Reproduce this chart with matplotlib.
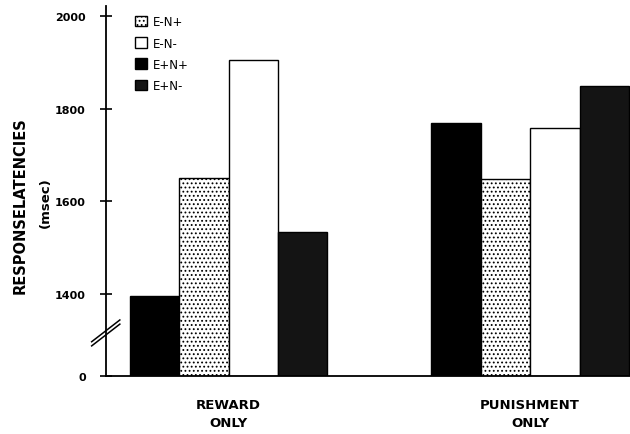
import numpy as np
import matplotlib.pyplot as plt

plt.rcParams['font.family'] = ['DejaVu Sans']
plt.rcParams['hatch.linewidth'] = 0.8

# données (msec)
conditions = ["REWARD\nONLY", "PUNISHMENT\nONLY"]
series = ["E+N+", "E-N+", "E-N-", "E+N-"]
e_pos_n_pos = [1395, 1770]
e_neg_n_pos = [1650, 1648]
e_neg_n_neg = [1905, 1758]
e_pos_n_neg = [1535, 1850]
values = [e_pos_n_pos, e_neg_n_pos, e_neg_n_neg, e_pos_n_neg]
yticks = [1400, 1600, 1800, 2000]

# axe coupé : le "0" est placé sous 1400
base = 1223
styles = {
    "E+N+": dict(color='black', hatch=None),
    "E-N+": dict(color='white', hatch='....'),
    "E-N-": dict(color='white', hatch=None),
    "E+N-": dict(color='#141414', hatch=None),
}

fig = plt.figure(figsize=(6.3, 4.35), dpi=100)
ax = fig.add_axes([106 / 630, 1 - 377 / 435, 1 - 106 / 630, 370 / 435])

group_x = np.array([0.0, 6.1])
offsets = [-1.5, -0.5, 0.5, 1.5]
bars = {}
for name, vals, off in zip(series, values, offsets):
    st = styles[name]
    heights = np.array(vals) - base
    bars[name] = ax.bar(group_x + off, heights, width=1.0, bottom=base,
                        color=st['color'], hatch=st['hatch'],
                        edgecolor='black', linewidth=1.0, label=name)

ax.set_xlim(-2.48, 8.12)
ax.set_ylim(base, 2022)

ax.set_yticks([base] + yticks)
ax.set_yticklabels(["0"] + [str(t) for t in yticks], fontsize=8, fontweight='bold')
ax.tick_params(axis='y', direction='inout', length=9, width=1.2, pad=10)
ax.set_xticks(group_x)
ax.set_xticklabels(conditions, fontsize=9.5, fontweight='bold', linespacing=1.5)
ax.tick_params(axis='x', length=0, pad=16)

for s in ['top', 'right']:
    ax.spines[s].set_visible(False)
ax.spines['left'].set_linewidth(1.3)
ax.spines['bottom'].set_linewidth(1.3)

# marques de coupure sur l'axe
for dy in (0, 9):
    ax.plot([-2.77, -2.2], [1288 + dy, 1335 + dy], transform=ax.transData,
            color='black', lw=1.1, clip_on=False)

# titre de l'axe y
fig.text(20 / 630, 1 - 206 / 435, "RESPONSELATENCIES", rotation=90,
         ha='center', va='center', fontsize=10.5, fontweight='bold')
fig.text(45 / 630, 1 - 203 / 435, "(msec)", rotation=90,
         ha='center', va='center', fontsize=9.5, fontweight='bold')

order = ["E-N+", "E-N-", "E+N+", "E+N-"]
ax.legend([bars[k] for k in order], order, loc='upper left',
          bbox_to_anchor=(0.055, 0.975), frameon=False, fontsize=8.5,
          handlelength=1.0, handleheight=1.0, handletextpad=0.5,
          labelspacing=0.7, borderpad=0, borderaxespad=0)

plt.savefig('out.png', dpi=100)
